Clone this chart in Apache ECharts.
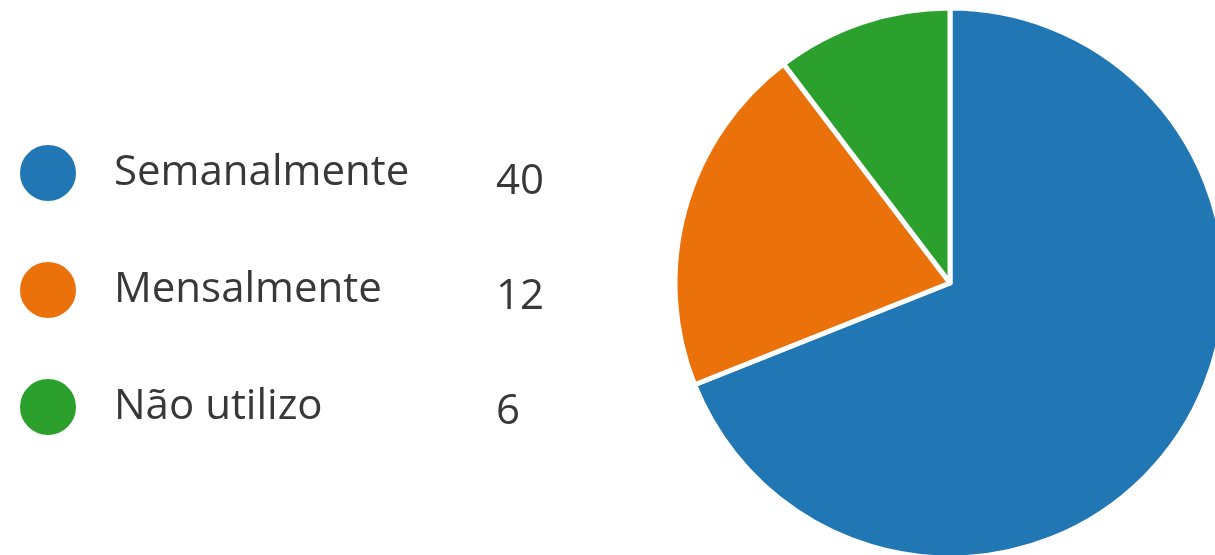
<!DOCTYPE html>
<html>
<head>
<meta charset="utf-8">
<script src="https://cdn.jsdelivr.net/npm/echarts@6/dist/echarts.min.js"></script>
<style>
  html, body { margin: 0; padding: 0; background: #ffffff; }
  #chart { width: 1215px; height: 555px; }
</style>
</head>
<body>
<div id="chart"></div>
<script>
// Frequency answers and their counts
const categories = ['Semanalmente', 'Mensalmente', 'Não utilizo'];
const counts = [40, 12, 6];
const colors = ['#2077b4', '#eb720a', '#2ca02c'];

const pieData = categories.map((name, i) => ({ name, value: counts[i] }));
const countByName = {};
categories.forEach((c, i) => { countByName[c] = counts[i]; });

const font = '"Open Sans", "Noto Sans", sans-serif';

const chart = echarts.init(document.getElementById('chart'), null, { renderer: 'canvas' });
chart.setOption({
  animation: false,
  color: colors,
  legend: [
    {
      // names with round markers
      orient: 'vertical',
      left: 18,
      top: 143,
      padding: 0,
      icon: 'circle',
      itemWidth: 58,
      itemHeight: 58,
      itemGap: 57,
      selectedMode: false,
      data: categories,
      textStyle: {
        fontFamily: font,
        fontSize: 42,
        lineHeight: 58,
        color: '#383838',
        padding: [0, 0, 0, 32]
      }
    },
    {
      // counts column
      orient: 'vertical',
      left: 490,
      top: 153,
      padding: 0,
      icon: 'circle',
      itemWidth: 0,
      itemHeight: 58,
      itemGap: 57,
      selectedMode: false,
      data: categories,
      formatter: name => String(countByName[name]),
      textStyle: {
        fontFamily: font,
        fontSize: 42,
        lineHeight: 58,
        color: '#383838'
      }
    }
  ],
  series: [
    {
      type: 'pie',
      center: [950, 283],
      radius: 275,
      startAngle: 90,
      clockwise: true,
      label: { show: false },
      labelLine: { show: false },
      emphasis: { disabled: true },
      itemStyle: { borderColor: '#ffffff', borderWidth: 5 },
      data: pieData
    }
  ]
});
</script>
</body>
</html>
